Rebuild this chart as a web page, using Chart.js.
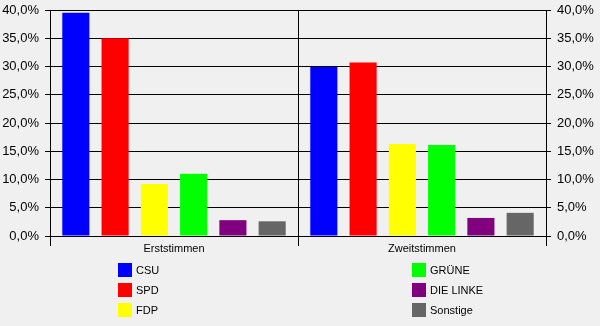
<!DOCTYPE html>
<html>
<head>
<meta charset="utf-8">
<script src="https://cdn.jsdelivr.net/npm/chart.js@4"></script>
<style>
  html, body { margin: 0; padding: 0; background: #f0f0f0; }
  #wrap { position: relative; width: 600px; height: 326px; }
  #legend { position: absolute; left: 0; top: 0; width: 600px; height: 326px; pointer-events: none; }
  .item { position: absolute; height: 14px; font: 11px "Liberation Sans", Arial, sans-serif; color: #000; line-height: 14px; white-space: nowrap; }
  .item span { display: inline-block; width: 14px; height: 14px; vertical-align: top; margin-right: 4px; }
</style>
</head>
<body>
<div id="wrap">
  <canvas id="chart" width="600" height="326"></canvas>
  <div id="legend"></div>
</div>
<script>
var categories = ['Erststimmen', 'Zweitstimmen'];
var parties = ['CSU', 'SPD', 'FDP', 'GRÜNE', 'DIE LINKE', 'Sonstige'];
var colors = ['#0000ff', '#ff0000', '#ffff00', '#00ff00', '#800080', '#666666'];
// Prozent je Partei: [Erststimmen, Zweitstimmen]
var csu = [39.5, 29.9];
var spd = [35.0, 30.7];
var fdp = [9.2, 16.3];
var gruene = [11.0, 16.1];
var linke = [2.8, 3.2];
var sonstige = [2.6, 4.1];
var yTicks = [0, 5, 10, 15, 20, 25, 30, 35, 40];

var values = [csu, spd, fdp, gruene, linke, sonstige];

function pct(v) {
    return v.toFixed(1).replace('.', ',') + '%';
}

var datasets = [];
for (var i = 0; i < parties.length; i++) {
    datasets.push({
        label: parties[i],
        data: values[i],
        backgroundColor: colors[i],
        borderWidth: 0,
        categoryPercentage: 0.95,
        barPercentage: 0.69
    });
}

var tickFont = { family: '"Liberation Sans", Arial, sans-serif', size: 13 };

function yAxis(side) {
    return {
        type: 'linear',
        position: side,
        min: 0,
        max: 40,
        afterBuildTicks: function (axis) {
            axis.ticks = yTicks.map(function (v) { return { value: v }; });
        },
        afterFit: function (axis) {
            axis.width = side === 'left' ? 50 : 54;
            // Platz oben über layout.padding steuern
            axis.paddingTop = 0;
            axis.paddingBottom = 0;
        },
        grid: {
            color: '#000',
            lineWidth: 1,
            tickLength: 5,
            drawOnChartArea: side === 'left'
        },
        border: { color: '#000', width: 1 },
        ticks: {
            color: '#000',
            font: tickFont,
            padding: 6,
            callback: function (v) { return pct(v); }
        }
    };
}

var chart = new Chart(document.getElementById('chart'), {
    type: 'bar',
    data: { labels: categories, datasets: datasets },
    options: {
        responsive: false,
        animation: false,
        layout: { padding: { top: 10, left: 0, right: 0, bottom: 0 } },
        plugins: {
            legend: { display: false },
            tooltip: { enabled: false }
        },
        scales: {
            x: {
                afterFit: function (axis) { axis.height = 90; },
                grid: {
                    color: '#000',
                    lineWidth: 1,
                    tickLength: 10,
                    offset: true
                },
                border: { color: '#000', width: 1 },
                ticks: {
                    color: '#000',
                    font: { family: '"Liberation Sans", Arial, sans-serif', size: 11 },
                    padding: -4,
                    maxRotation: 0
                }
            },
            y: yAxis('left'),
            y2: yAxis('right')
        }
    }
});

// Legende in zwei Spalten zu je drei Einträgen
var legend = document.getElementById('legend');
var colLeft = [118, 412];
chart.data.datasets.forEach(function (ds, i) {
    var el = document.createElement('div');
    el.className = 'item';
    el.style.left = colLeft[Math.floor(i / 3)] + 'px';
    el.style.top = (263 + (i % 3) * 20) + 'px';
    el.innerHTML = '<span style="background:' + ds.backgroundColor + '"></span>' + ds.label;
    legend.appendChild(el);
});
</script>
</body>
</html>
